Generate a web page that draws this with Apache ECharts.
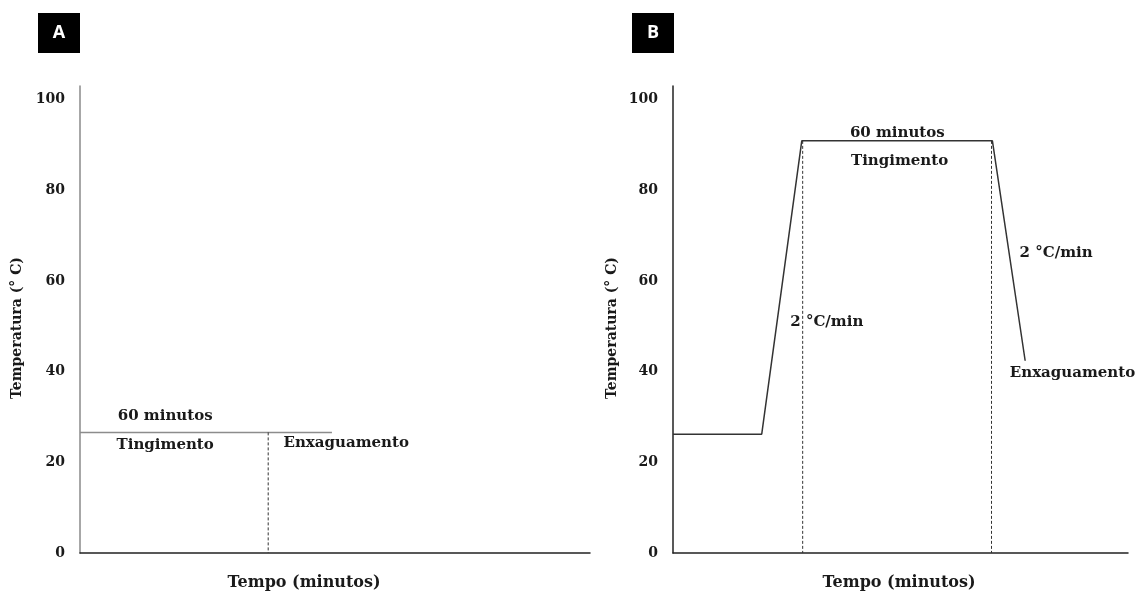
<!DOCTYPE html>
<html>
<head>
<meta charset="utf-8">
<script src="https://cdn.jsdelivr.net/npm/echarts@6/dist/echarts.min.js"></script>
<style>
  html, body { margin: 0; padding: 0; background: #fff; }
  #myChart { width: 1140px; height: 593px; }
</style>
</head>
<body>
<div id="myChart"></div>
<script>
// Y ticks
const yTicks = [0, 20, 40, 60, 80, 100]

// Panel A : temperature profile (time is schematic, 0-100 units)
const profileA = [[0, 26.6], [49.4, 26.6]]
const dashA = [[36.9, 26.6], [36.9, 0]]
const notesA = [
  [16.7, 30.1, '60 minutos'],
  [16.7, 23.8, 'Tingimento'],
  [52.2, 24.2, 'Enxaguamento'],
]

// Panel B
const profileB = [[0, 26.2], [19.5, 26.2], [28.3, 90.9], [70.2, 90.9], [77.4, 42.4]]
const dashB1 = [[28.5, 90.9], [28.5, 0]]
const dashB2 = [[70.0, 90.9], [70.0, 0]]
const notesB = [
  [49.3, 92.7, '60 minutos'],
  [49.8, 86.5, 'Tingimento'],
  [33.8, 51.0, '2 °C/min'],
  [84.2, 66.2, '2 °C/min'],
  [87.8, 39.6, 'Enxaguamento'],
]

const serif = '"DejaVu Serif", serif'
const txt = '#1a1a1a'

const chart = echarts.init(document.getElementById('myChart'))

function xAx(idx) {
  return {
    gridIndex: idx,
    type: 'value',
    min: 0,
    max: 100,
    axisLine: { lineStyle: { color: '#222', width: 1.5 } },
    axisTick: { show: false },
    axisLabel: { show: false },
    splitLine: { show: false },
  }
}

function yAx(idx, color) {
  return {
    gridIndex: idx,
    type: 'value',
    min: 0,
    max: 103,
    interval: 20,
    axisLine: { show: true, lineStyle: { color: color, width: 1.5 } },
    axisTick: { show: false },
    splitLine: { show: false },
    axisLabel: {
      margin: 15,
      color: txt,
      fontFamily: serif,
      fontWeight: 'bold',
      fontSize: 14,
      formatter: v => (yTicks.indexOf(v) >= 0 ? String(v) : ''),
    },
  }
}

function notes(idx, data) {
  return {
    type: 'scatter',
    xAxisIndex: idx,
    yAxisIndex: idx,
    symbolSize: 0,
    silent: true,
    itemStyle: { opacity: 1 },
    data: data,
    label: {
      show: true,
      position: 'inside',
      color: txt,
      fontFamily: serif,
      fontWeight: 'bold',
      fontSize: 15,
      formatter: p => p.data[2],
    },
  }
}

function dashed(idx, data) {
  return {
    type: 'line',
    xAxisIndex: idx,
    yAxisIndex: idx,
    showSymbol: false,
    silent: true,
    data: data,
    lineStyle: { color: '#333', width: 1, type: [3, 2] },
  }
}

function badge(x, letter) {
  return {
    type: 'group',
    left: x,
    top: 13,
    children: [
      { type: 'rect', shape: { x: 0, y: 0, width: 42, height: 40 }, style: { fill: '#000' } },
      {
        type: 'text',
        x: 21,
        y: 20,
        style: {
          text: letter, fill: '#fff', font: 'bold 18px "Open Sans", sans-serif',
          textAlign: 'center', textVerticalAlign: 'middle',
        },
      },
    ],
  }
}

function title(x, y, text, font, rot) {
  return {
    type: 'text',
    x: x,
    y: y,
    rotation: rot || 0,
    style: {
      text: text, fill: txt, font: font + ' ' + serif,
      textAlign: 'center', textVerticalAlign: 'middle',
    },
  }
}

chart.setOption({
  animation: false,
  grid: [
    { left: 80, top: 86, width: 510, height: 467 },
    { left: 673, top: 86, width: 455, height: 467 },
  ],
  xAxis: [xAx(0), xAx(1)],
  yAxis: [yAx(0, '#8a8a8a'), yAx(1, '#222')],
  series: [
    {
      type: 'line',
      xAxisIndex: 0,
      yAxisIndex: 0,
      showSymbol: false,
      data: profileA,
      lineStyle: { color: '#8c8c8c', width: 1.5 },
    },
    dashed(0, dashA),
    notes(0, notesA),
    {
      type: 'line',
      xAxisIndex: 1,
      yAxisIndex: 1,
      showSymbol: false,
      data: profileB,
      lineStyle: { color: '#333', width: 1.5 },
    },
    dashed(1, dashB1),
    dashed(1, dashB2),
    notes(1, notesB),
  ],
  graphic: [
    badge(38, 'A'),
    badge(632, 'B'),
    title(17, 328, 'Temperatura (° C)', 'bold 14px', Math.PI / 2),
    title(612, 328, 'Temperatura (° C)', 'bold 14px', Math.PI / 2),
    title(304, 583, 'Tempo (minutos)', 'bold 16px'),
    title(899, 583, 'Tempo (minutos)', 'bold 16px'),
  ],
})
</script>
</body>
</html>
